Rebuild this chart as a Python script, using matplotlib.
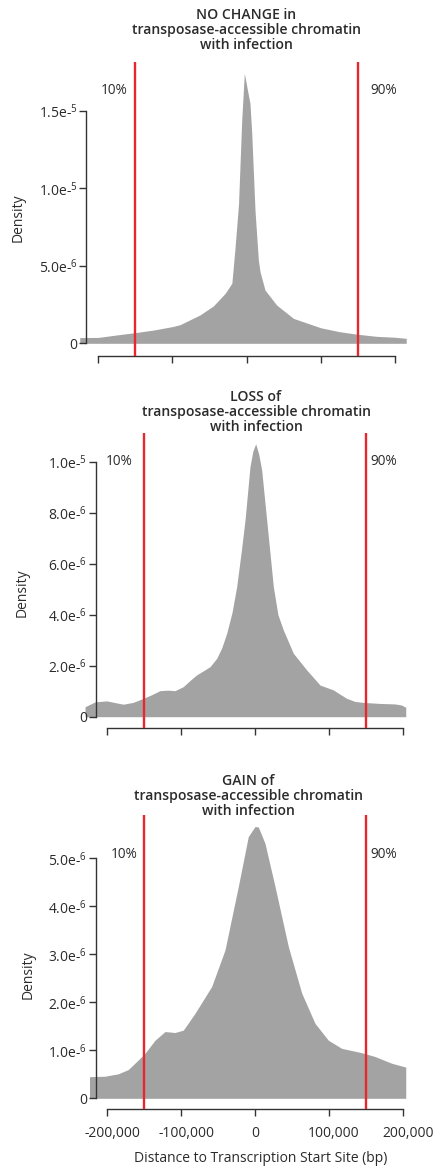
import matplotlib
matplotlib.use("Agg")
import matplotlib.pyplot as plt
from matplotlib.transforms import ScaledTranslation

plt.rcParams['font.family'] = ['Open Sans', 'DejaVu Sans']

W, H = 436, 1169

# distance to TSS (bp) and density
nochange_x = [-225000, -200000, -175000, -150000, -125000, -100000, -90000, -63000,
              -45000, -29000, -20000, -16000, -11000, -6700, -3200, 4400, 6700,
              11200, 15700, 18000, 24700, 40400, 63000, 100000, 125000, 150000,
              175000, 200000, 215000]
nochange_y = [0.37e-6, 0.38e-6, 0.54e-6, 0.69e-6, 0.86e-6, 1.08e-6, 1.2e-6, 1.83e-6,
              2.41e-6, 3.23e-6, 3.88e-6, 6.0e-6, 9.0e-6, 1.44e-5, 1.744e-5, 1.55e-5,
              1.367e-5, 8.6e-6, 5.38e-6, 4.62e-6, 3.44e-6, 2.47e-6, 1.61e-6, 1.0e-6,
              0.75e-6, 0.58e-6, 0.45e-6, 0.39e-6, 0.32e-6]

loss_x = [-230000, -216500, -200700, -189000, -178200, -165000, -151100, -140000,
          -128600, -118000, -108300, -97000, -88000, -78900, -60900, -51800, -45000,
          -38300, -31000, -24800, -18500, -13500, -6800, -3000, 900, 5000, 9000,
          15800, 24800, 31000, 38300, 51800, 70000, 88000, 106000, 114000, 124000,
          135000, 146600, 169100, 189400, 198000, 204000]
loss_y = [0.39e-6, 0.58e-6, 0.62e-6, 0.55e-6, 0.49e-6, 0.56e-6, 0.72e-6, 0.86e-6,
          1.02e-6, 1.04e-6, 1.02e-6, 1.18e-6, 1.42e-6, 1.64e-6, 1.96e-6, 2.29e-6,
          2.7e-6, 3.27e-6, 4.1e-6, 5.1e-6, 6.5e-6, 7.71e-6, 9.8e-6, 10.4e-6, 1.07e-5,
          10.3e-6, 9.68e-6, 7.71e-6, 5.1e-6, 4.0e-6, 3.4e-6, 2.49e-6, 1.83e-6,
          1.24e-6, 1.05e-6, 0.9e-6, 0.72e-6, 0.6e-6, 0.56e-6, 0.52e-6, 0.50e-6,
          0.46e-6, 0.37e-6]

gain_x = [-224000, -203000, -185000, -171400, -157900, -148800, -135300, -121800,
          -108300, -97000, -81200, -58600, -40600, -22600, -9100, 0, 4500, 13500,
          27100, 45100, 63200, 81200, 99200, 117300, 144400, 162400, 185000, 204000]
gain_y = [0.45e-6, 0.46e-6, 0.51e-6, 0.60e-6, 0.80e-6, 0.94e-6, 1.21e-6, 1.39e-6,
          1.37e-6, 1.42e-6, 1.77e-6, 2.33e-6, 3.09e-6, 4.41e-6, 5.45e-6, 5.66e-6,
          5.65e-6, 5.31e-6, 4.41e-6, 3.16e-6, 2.19e-6, 1.56e-6, 1.21e-6, 1.04e-6,
          0.95e-6, 0.87e-6, 0.73e-6, 0.65e-6]

titles = ["NO CHANGE in\ntransposase-accessible chromatin\nwith infection",
          "LOSS of\ntransposase-accessible chromatin\nwith infection",
          "GAIN of\ntransposase-accessible chromatin\nwith infection"]

nochange_ticks = [0, 5e-6, 1e-5, 1.5e-5]
nochange_labels = ["0", "5.0e-$^{\\mathregular{6}}$", "1.0e-$^{\\mathregular{5}}$",
                   "1.5e-$^{\\mathregular{5}}$"]
loss_ticks = [0, 2e-6, 4e-6, 6e-6, 8e-6, 1e-5]
loss_labels = ["0", "2.0e-$^{\\mathregular{6}}$", "4.0e-$^{\\mathregular{6}}$",
               "6.0e-$^{\\mathregular{6}}$", "8.0e-$^{\\mathregular{6}}$",
               "1.0e-$^{\\mathregular{5}}$"]
gain_ticks = [0, 1e-6, 2e-6, 3e-6, 4e-6, 5e-6]
gain_labels = ["0", "1.0e-$^{\\mathregular{6}}$", "2.0e-$^{\\mathregular{6}}$",
               "3.0e-$^{\\mathregular{6}}$", "4.0e-$^{\\mathregular{6}}$",
               "5.0e-$^{\\mathregular{6}}$"]

x_ticks = [-200000, -100000, 0, 100000, 200000]
x_labels = ["-200,000", "-100,000", "0", "100,000", "200,000"]
cutoffs = [-150000, 150000]

GREY = '#a3a3a3'
RED = '#e8262c'
DARK = '#333333'
TXT = '#2b2b2b'

fig = plt.figure(figsize=(W / 100, H / 100), dpi=100)


def px(x, y):
    return x / W, 1 - y / H


def panel(rect, xlim, ylim, spine_x, xs, ys, yticks, ylabels, title, title_xy,
          pct_y, ylab_xy, show_xlabels=False):
    left, top, right, bottom = rect
    ax = fig.add_axes([left / W, 1 - bottom / H, (right - left) / W, (bottom - top) / H])
    ax.fill_between(xs, 0, ys, color=GREY, lw=0)
    for c in cutoffs:
        ax.axvline(c, color=RED, lw=1.7, zorder=4)
    ax.set_xlim(*xlim)
    ax.set_ylim(*ylim)
    for s in ['top', 'right']:
        ax.spines[s].set_visible(False)
    ax.spines['left'].set_position(('data', spine_x))
    ax.spines['left'].set_bounds(0, yticks[-1])
    ax.spines['bottom'].set_bounds(x_ticks[0], x_ticks[-1])
    for s in ['left', 'bottom']:
        ax.spines[s].set_color(DARK)
        ax.spines[s].set_linewidth(1.0)
    ax.set_yticks(yticks)
    ax.set_yticklabels(ylabels)
    ax.set_xticks(x_ticks)
    if show_xlabels:
        ax.set_xticklabels(x_labels)
    else:
        ax.set_xticklabels([])
    ax.tick_params(axis='both', length=5, width=1.0, color=DARK, labelcolor=TXT,
                   labelsize=10)
    ax.tick_params(axis='y', pad=1)
    ax.patch.set_alpha(0)

    fig.text(*px(*title_xy), title, ha='center', va='center', fontsize=10.1,
             fontweight='semibold', color=TXT, linespacing=1.08)
    fig.text(*px(left + 34, pct_y), "10%", ha='center', va='center', fontsize=9.8, color=TXT)
    fig.text(*px(right - 22, pct_y), "90%", ha='center', va='center', fontsize=9.8, color=TXT)
    fig.text(*px(*ylab_xy), "Density", rotation=90, ha='center', va='center',
             fontsize=10, color=TXT)
    return ax


panel((80, 62.3, 405.7, 356), (-224650, 214290), (-8.2e-7, 1.815e-5), -216600,
      nochange_x, nochange_y, nochange_ticks, nochange_labels, titles[0],
      (246, 30), 90, (18.3, 218))
panel((85, 433.3, 405.7, 728.3), (-230040, 203920), (-4.55e-7, 1.111e-5), -215600,
      loss_x, loss_y, loss_ticks, loss_labels, titles[1],
      (256, 412.3), 461.7, (21.7, 593))
ax3 = panel((90, 815, 405.7, 1109.3), (-223270, 203920), (-2.29e-7, 5.90e-6), -215600,
            gain_x, gain_y, gain_ticks, gain_labels, titles[2],
            (248, 796), 855, (28.3, 975), show_xlabels=True)
ax3.tick_params(axis='x', pad=7)
for lab, val in zip(ax3.get_xticklabels(), x_ticks):
    if val != 0:
        lab.set_transform(lab.get_transform() + ScaledTranslation(0.05, 0, fig.dpi_scale_trans))
fig.text(*px(260.5, 1158), "Distance to Transcription Start Site (bp)", ha='center',
         va='center', fontsize=10, color=TXT)

fig.savefig("out.png", dpi=100)
